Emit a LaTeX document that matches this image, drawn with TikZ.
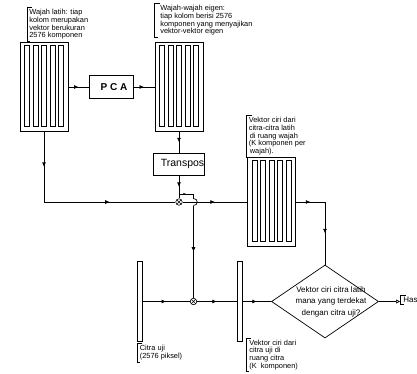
\documentclass[tikz,border=0pt]{standalone}
\usepackage{fontspec}
\setmainfont{Liberation Sans}
\usetikzlibrary{shapes.geometric,arrows.meta,decorations.markings}
\newcommand\mybracket[2]{\draw[line width=0.6pt] ([xshift=#2+5pt,yshift=1.5pt]#1.north west) -- ([xshift=#2,yshift=1.5pt]#1.north west) -- ([xshift=#2,yshift=-1.5pt]#1.south west) -- ([xshift=#2+3pt,yshift=-1.5pt]#1.south west);}
\begin{document}
\begin{tikzpicture}[x=1pt,y=-1pt,line width=0.7pt,
  midarrow/.style={decoration={markings,mark=at position 0.5 with {\arrow{Latex[length=4.5pt,width=4pt]}}},postaction={decorate}},
  smallarrow/.style={decoration={markings,mark=at position 0.5 with {\arrow{Latex[length=3pt,width=2.5pt]}}},postaction={decorate}},
  matbox/.style={draw,rectangle,minimum width=48pt,minimum height=89pt,inner sep=0pt,
    path picture={\foreach \i in {0,...,4}{\draw[line width=0.6pt] ([xshift={4.5pt+\i*8.5pt},yshift=-3pt]path picture bounding box.north west) rectangle ++(5pt,-81pt);}}},
  vecbox/.style={draw,rectangle,minimum width=5pt,minimum height=80pt,inner sep=0pt},
  procbox/.style={draw,rectangle,inner sep=0pt},
  mult/.style={draw,circle,minimum size=6.5pt,inner sep=0pt,line width=0.6pt,
    path picture={\draw[line width=0.5pt] (path picture bounding box.north west)--(path picture bounding box.south east) (path picture bounding box.north east)--(path picture bounding box.south west);}},
  lbl/.style={font=\fontsize{7.4}{7.7}\selectfont,align=left,inner sep=0pt,anchor=north west},
  ]
\useasboundingbox[fill=white] (0,0) rectangle (417,373);

% matrices
\node[matbox] (M1) at (44,87) {};
\node[matbox] (M2) at (179,87) {};
\node[matbox] (M3) at (271.5,202) {};
\node[procbox,minimum width=44pt,minimum height=23pt] (pca) at (111,87) {};
\node[font=\fontsize{10}{12}\selectfont\bfseries,inner sep=0pt] (pcat) at (114,87) {P C A};
\node[procbox,minimum width=51pt,minimum height=22pt] (tr) at (179,164) {};
\node[font=\fontsize{10.5}{12}\selectfont,inner sep=0.3pt,anchor=east] (trt) at (tr.east) {Transpos};

% multipliers
\node[mult] (m1) at (179,202) {};
\node[mult] (m2) at (193.5,301.5) {};

% lower row
\node[vecbox] (cu) at (139.5,301.5) {};
\node[vecbox] (vk) at (239.5,301.5) {};
\node[draw,diamond,minimum width=107pt,minimum height=73pt,inner sep=0pt] (dm) at (325,301.5) {};
\node[font=\fontsize{8}{11.5}\selectfont,align=center,inner sep=0pt] (dmt) at (331,301.5) {Vektor ciri citra latih\\mana yang terdekat\\dengan citra uji?};

% coordinates
\coordinate (c1) at (44,202);
\coordinate (c2) at (325,202);
\coordinate (br) at (179,194);
\coordinate (br2) at (193.5,194);
\coordinate (h1) at (193.5,198.5);
\coordinate (h2) at (193.5,205.5);
\coordinate (hb) at (400,301.5);

% connectors
\draw[midarrow] (M1.east |- pca.west) -- (pca.west);
\draw[midarrow] (pca.east) -- (M2.west |- pca.east);
\draw[midarrow] (M1.south) -- (c1);
\draw[midarrow] (c1) -- (m1.west);
\draw[midarrow] (M2.south) -- (tr.north);
\draw[midarrow] (tr.south) -- (m1.north);
\draw[midarrow] (m1.east) -- (M3.west);
\draw[smallarrow] (br) -- (br2);
\draw (br2) -- (h1) .. controls (198.5,198.5) and (198.5,205.5) .. (h2);
\draw[midarrow] (h2) -- (m2.north);
\draw[midarrow] (M3.east) -- (c2);
\draw[midarrow] (c2) -- (dm.north);
\draw[midarrow] (cu.east) -- (m2.west);
\draw[midarrow] (m2.east) -- (vk.west);
\draw[midarrow] (vk.east) -- (dm.west);
\draw[-{Triangle[open,length=4pt,width=4pt]}] (dm.east) -- (hb);

% labels
\node[lbl] (l1) at (29,9) {Wajah latih: tiap\\kolom merupakan\\vektor berukuran\\2576 komponen};
\mybracket{l1}{-2pt}
\node[lbl] (l2) at (160,5) {Wajah-wajah eigen:\\tiap kolom berisi 2576\\komponen yang menyajikan\\vektor-vektor eigen};
\mybracket{l2}{-5.5pt}
\node[lbl] (l3) at (248.5,117) {Vektor ciri dari\\citra-citra latih\\\hspace*{1pt}di ruang wajah\\(K komponen per\\\hspace*{1pt}wajah).};
\mybracket{l3}{-2pt}
\node[lbl] (l4) at (249,339.5) {Vektor ciri dari\\citra uji di\\ruang citra\\(K\ \ komponen)};
\mybracket{l4}{-3pt}
\node[lbl] (l5) at (139.5,345) {Citra uji\\(2576 piksel)};
\mybracket{l5}{-2.5pt}
\node[lbl,font=\fontsize{8}{8.5}\selectfont] (l6) at (403,296.5) {Hasil};
\mybracket{l6}{-2.5pt}
\end{tikzpicture}
\end{document}
